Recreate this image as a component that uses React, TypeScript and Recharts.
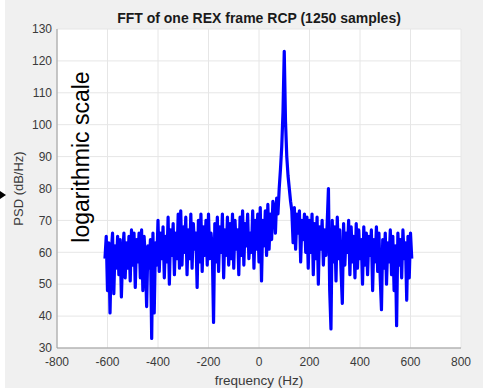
import React from "react";
import {
  LineChart,
  Line,
  XAxis,
  YAxis,
  CartesianGrid,
} from "recharts";

const chartTitle = "FFT of one REX frame RCP (1250 samples)";
const xLabel = "frequency (Hz)";
const yLabel = "PSD (dB/Hz)";
const annotation = "logarithmic scale";

const xTicks = [-800, -600, -400, -200, 0, 200, 400, 600, 800];
const yTicks = [30, 40, 50, 60, 70, 80, 90, 100, 110, 120, 130];

// frequency bins: start and spacing (Hz)
const freqStart = -610;
const freqStep = 5;

// PSD values (dB/Hz), one per bin
const psd = [
  // -610 .. -515
  58, 65, 48, 63, 41, 60, 66, 47, 62, 55, 65, 53, 64, 46, 59, 66, 52, 63, 55, 65,
  // -510 .. -415
  51, 67, 56, 66, 49, 64, 57, 66, 52, 67, 48, 65, 58, 43, 62, 55, 64, 33, 66, 41,
  // -410 .. -315
  63, 56, 70, 54, 66, 58, 68, 52, 65, 57, 71, 50, 67, 59, 69, 53, 66, 58, 72, 55,
  // -310 .. -215
  73, 56, 68, 60, 71, 53, 67, 58, 72, 55, 69, 61, 66, 49, 70, 57, 72, 54, 68, 59,
  // -210 .. -115
  70, 56, 72, 58, 66, 61, 38, 69, 57, 71, 54, 68, 60, 72, 52, 67, 59, 71, 56, 69,
  // -110 .. -15
  58, 72, 55, 70, 61, 67, 53, 71, 59, 73, 56, 69, 62, 72, 58, 66, 60, 73, 55, 70,
  // -10 .. 85
  61, 72, 57, 74, 51, 70, 62, 73, 59, 75, 61, 72, 64, 76, 74, 66, 77, 72, 80, 86,
  // 90 .. 185
  93, 104, 123, 101, 90, 84, 80, 76, 73, 63, 74, 61, 72, 66, 73, 57, 70, 64, 72, 60,
  // 190 .. 285
  71, 55, 70, 60, 72, 53, 69, 58, 71, 50, 68, 61, 70, 56, 67, 59, 69, 80, 48, 36,
  // 290 .. 385
  70, 57, 68, 51, 71, 58, 67, 54, 44, 69, 56, 66, 60, 70, 53, 68, 57, 65, 52, 69,
  // 390 .. 485
  55, 67, 58, 64, 50, 68, 56, 66, 53, 65, 59, 67, 48, 64, 57, 68, 54, 66, 52, 42,
  // 490 .. 585
  64, 55, 66, 50, 63, 57, 67, 53, 65, 48, 62, 37, 66, 56, 64, 52, 67, 58, 63, 45,
  // 590 .. 605
  65, 52, 66, 58,
];

const data = psd.map((v, i) => ({ f: freqStart + i * freqStep, psd: v }));

const FONT = "'Liberation Sans', Arial, Helvetica, sans-serif";
const TICK_COLOR = "#3a3a3a";
const BOX_COLOR = "#9a9a9a";

export default function App() {
  return (
    <div
      style={{
        position: "fixed",
        left: 0,
        top: 0,
        width: 493,
        height: 392,
        background: "#ffffff",
        fontFamily: FONT,
      }}
    >
      <div
        style={{
          position: "absolute",
          left: 5,
          top: 0,
          width: 478,
          height: 388,
          background: "#f0f0f0",
        }}
      />
      <div style={{ position: "absolute", left: 0, top: 0 }}>
        <LineChart
          width={493}
          height={392}
          data={data}
          margin={{ top: 29, right: 32, bottom: 0, left: 0 }}
        >
          <CartesianGrid
            stroke="#e6e6e6"
            strokeWidth={1}
            fill="#ffffff"
            fillOpacity={1}
            horizontalValues={yTicks}
            verticalValues={xTicks}
          />
          <XAxis
            dataKey="f"
            type="number"
            domain={[-800, 800]}
            ticks={xTicks}
            allowDataOverflow
            height={44}
            tickLine={false}
            tickSize={6}
            tickMargin={3}
            axisLine={{ stroke: BOX_COLOR }}
            tick={{ fill: TICK_COLOR, fontSize: 12, fontFamily: FONT }}
            label={{
              value: xLabel,
              position: "insideBottom",
              offset: 7,
              fill: TICK_COLOR,
              fontSize: 13.5,
              fontFamily: FONT,
            }}
          />
          <XAxis
            xAxisId="top"
            dataKey="f"
            type="number"
            domain={[-800, 800]}
            orientation="top"
            height={0}
            tick={false}
            tickLine={false}
            axisLine={{ stroke: BOX_COLOR }}
          />
          <YAxis
            type="number"
            domain={[30, 130]}
            ticks={yTicks}
            allowDataOverflow
            width={57}
            tickLine={false}
            tickSize={3}
            tickMargin={2}
            axisLine={{ stroke: BOX_COLOR }}
            tick={{ fill: TICK_COLOR, fontSize: 12, fontFamily: FONT }}
            label={{
              value: yLabel,
              angle: -90,
              position: "insideLeft",
              offset: 18,
              style: { textAnchor: "middle" },
              fill: TICK_COLOR,
              fontSize: 13,
              fontFamily: FONT,
            }}
          />
          <YAxis
            yAxisId="right"
            orientation="right"
            domain={[30, 130]}
            width={0}
            tick={false}
            tickLine={false}
            axisLine={{ stroke: BOX_COLOR }}
          />
          <Line
            type="linear"
            dataKey="psd"
            stroke="#0000ff"
            strokeWidth={3.2}
            strokeLinejoin="round"
            dot={false}
            isAnimationActive={false}
          />
        </LineChart>
      </div>
      <svg
        width={493}
        height={392}
        style={{ position: "absolute", left: 0, top: 0, pointerEvents: "none" }}
      >
        <text
          x={259}
          y={23}
          textAnchor="middle"
          fontFamily={FONT}
          fontWeight="bold"
          fontSize={14}
          fill="#1a1a1a"
        >
          {chartTitle}
        </text>
        <text
          x={89}
          y={157}
          transform="rotate(-90 89 157)"
          textAnchor="middle"
          fontFamily={FONT}
          fontSize={23}
          fill="#000000"
        >
          {annotation}
        </text>
        <polygon points="0,191 6,195 0,199" fill="#000000" />
      </svg>
    </div>
  );
}
